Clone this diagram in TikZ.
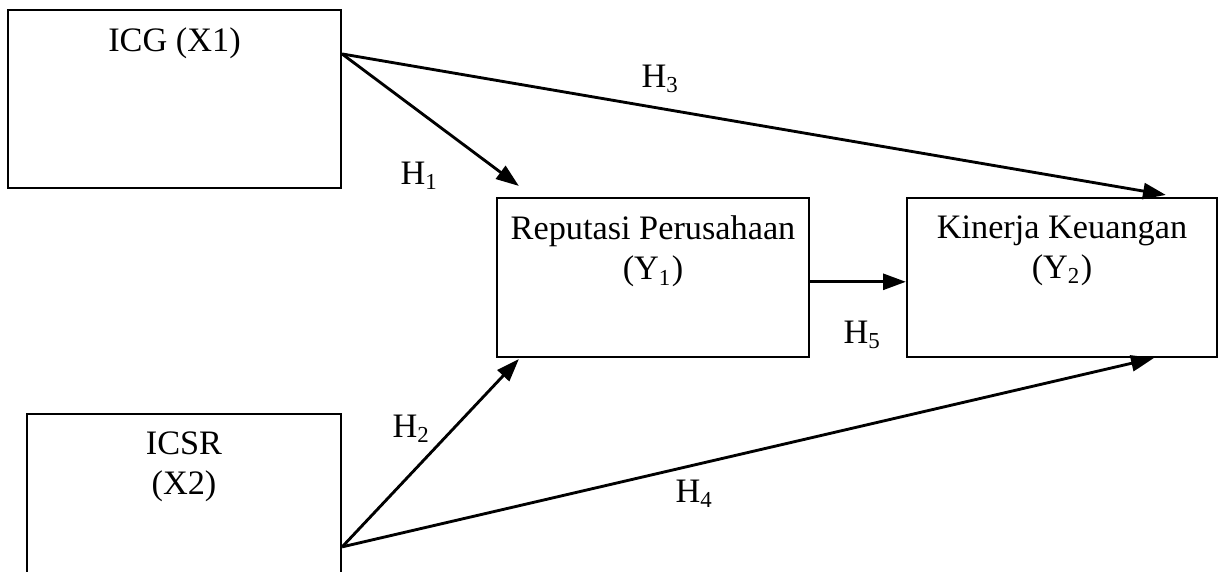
\documentclass[tikz,border=0pt]{standalone}
\usepackage{fontspec}
\setmainfont{Liberation Serif}
\usetikzlibrary{positioning,calc,arrows.meta}
\begin{document}
\begin{tikzpicture}[x=0.35pt, y=-0.35pt,
    varbox/.style={draw, line width=0.8pt, inner sep=0pt},
    boxtitle/.style={inner sep=0pt, align=center, font=\fontsize{12}{14}\selectfont},
    path/.style={line width=1pt, -{Triangle[length=8pt, width=5.6pt]}},
    hyp/.style={inner sep=0pt, anchor=base west, font=\fontsize{12}{14}\selectfont}]
  \clip (0,0) rectangle (1218,571);
  % variables
  \node[varbox, minimum width=116.5pt, minimum height=62.3pt] (icg) at (174.5,99) {};
  \node[varbox, minimum width=109.9pt, minimum height=65.1pt] (icsr) at (184,507) {};
  \node[varbox, minimum width=109.2pt, minimum height=55.6pt] (rep) at (653,277.5) {};
  \node[varbox, minimum width=108.5pt, minimum height=55.6pt] (kin) at (1062,277.5) {};
  \node[boxtitle, below=6.5pt of icg.north] (icgt) {ICG (X1)};
  \node[boxtitle, below=6.5pt of icsr.north] (icsrt) {ICSR\\(X2)};
  \node[boxtitle, below=6.5pt of rep.north] (rept) {Reputasi Perusahaan\\(Y\textsubscript{1})};
  \node[boxtitle, below=6.5pt of kin.north] (kint) {Kinerja Keuangan\\(Y\textsubscript{2})};
  % paths
  \coordinate (icgout) at ($(icg.north east)!0.25!(icg.south east)$);
  \coordinate (icsrout) at ($(icsr.north east)+(0,134)$);
  \draw[path] (icgout) -- ($(rep.north west)+(23,-11)$);
  \draw[path] (icgout) -- ($(kin.north west)+(260,-2)$);
  \draw[path] (icsrout) -- ($(rep.south west)+(23,1)$);
  \draw[path] (icsrout) -- ($(kin.south west)+(248,0)$);
  \draw[path] ([yshift=-1.5pt]rep.east) -- ([yshift=-1.5pt]kin.west);
  % hypotheses
  \node[hyp] (h1) at (400,184) {H\textsubscript{1}};
  \node[hyp] (h2) at (392,437) {H\textsubscript{2}};
  \node[hyp] (h3) at (641,87) {H\textsubscript{3}};
  \node[hyp] (h4) at (675,502) {H\textsubscript{4}};
  \node[hyp] (h5) at (843,343) {H\textsubscript{5}};
\end{tikzpicture}
\end{document}
